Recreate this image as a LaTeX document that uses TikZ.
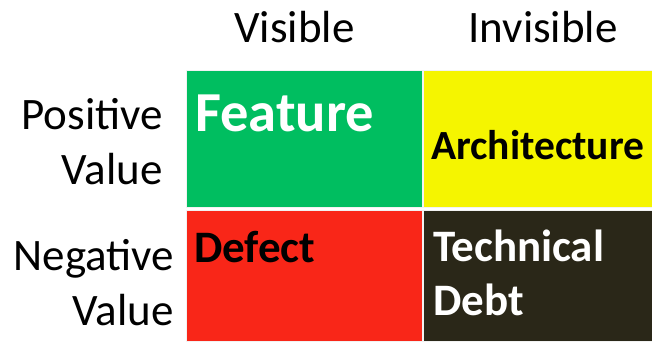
\documentclass[tikz,border=0pt]{standalone}
\usepackage{fontspec}
\setmainfont{Carlito}
\usepackage{tikz}

\definecolor{featgreen}{RGB}{0,190,96}
\definecolor{archyellow}{RGB}{245,245,0}
\definecolor{defectred}{RGB}{249,38,24}
\definecolor{debtdark}{RGB}{42,39,24}

\begin{document}
\begin{tikzpicture}[x=1pt, y=1pt,
	cell/.style={draw=white!90!gray, line width=.6pt, inner sep=0pt, anchor=south west},
	axislabel/.style={font=\fontsize{45}{54.5}\selectfont, inner sep=0pt},
	celltext/.style={font=\bfseries\fontsize{45}{53.5}\selectfont, inner sep=0pt, align=left, anchor=base west}]
% page frame
	\useasboundingbox (0,0) rectangle (652,343);
% draw the four cells
	\node[cell, fill=featgreen, minimum width=236pt, minimum height=137pt] (feat) at (186,135) {};
	\node[cell, fill=archyellow, minimum width=231pt, minimum height=137pt] (arch) at (423,135) {};
	\node[cell, fill=defectred, minimum width=236pt, minimum height=131pt] (defect) at (186,1) {};
	\node[cell, fill=debtdark, minimum width=231pt, minimum height=131pt] (debt) at (423,1) {};
% column and row headings
	\node[axislabel, anchor=base] (vis) at (294.5,300) {Visible};
	\node[axislabel, anchor=base] (invis) at (543,300) {Invisible};
	\node[axislabel, align=right, anchor=base east] (posval) at (163,159) {Positive\\Value};
	\node[axislabel, align=right, anchor=base east] (negval) at (174,18) {Negative\\Value};
% cell texts
	\node[celltext, text=white, font=\bfseries\fontsize{56.5}{66}\selectfont] (feattext) at (195,211) {Feature};
	\node[celltext, text=black, font=\bfseries\fontsize{41.5}{49}\selectfont] (archtext) at (431,183) {Architecture};
	\node[celltext, text=black] (defecttext) at (194,81) {Defect};
	\node[celltext, text=white] (debttext) at (433,28) {Technical\\Debt};
\end{tikzpicture}
\end{document}
